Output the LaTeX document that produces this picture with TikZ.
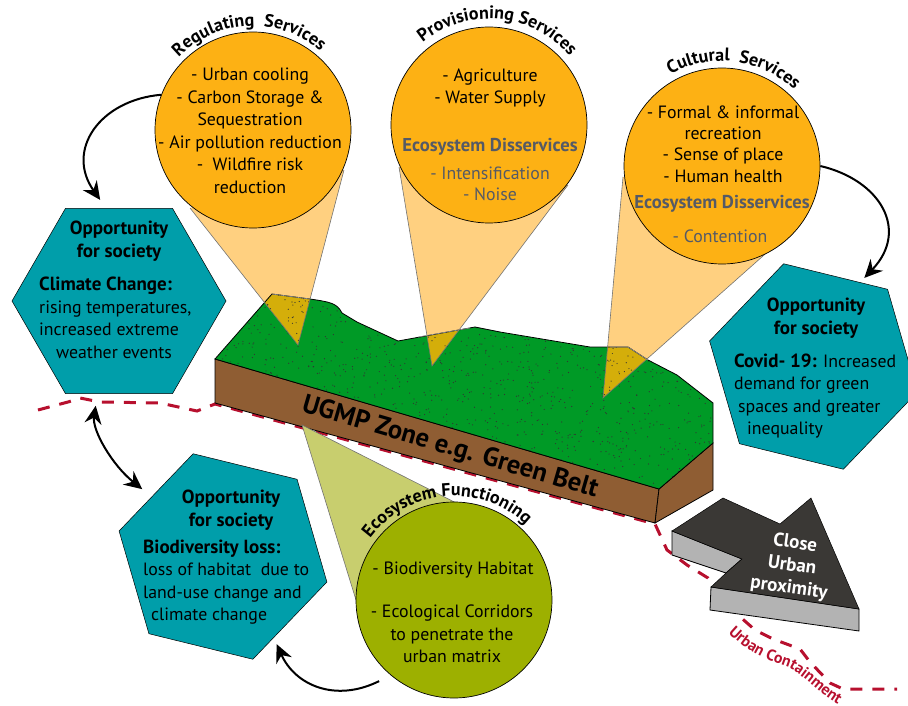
\documentclass[tikz,border=0pt]{standalone}
\usepackage{fontspec}
\setmainfont{PT Sans}
\usetikzlibrary{arrows.meta,shapes.geometric,decorations.text}

\definecolor{orangefill}{HTML}{FDB114}
\definecolor{conefill}{HTML}{FFD080}
\definecolor{overlapfill}{HTML}{D4AE0A}
\definecolor{olivefill}{HTML}{9DB000}
\definecolor{olivecone}{HTML}{C8CE6E}
\definecolor{tealfill}{HTML}{009EAA}
\definecolor{greenfill}{HTML}{009A26}
\definecolor{brownfill}{HTML}{8F5D33}
\definecolor{darkfill}{HTML}{3A3835}
\definecolor{greyfill}{HTML}{B3B3B3}
\definecolor{redline}{HTML}{B7102E}
\definecolor{disgrey}{HTML}{555A66}

\newcommand{\bodyfont}{\fontsize{17.8}{22.5}\selectfont}
\newcommand{\tightfont}{\fontsize{17.8}{21.3}\selectfont}
\newcommand{\boldfont}{\fontsize{19}{22.5}\selectfont\bfseries}
\newcommand{\disfont}{\fontsize{18.6}{22.5}\selectfont\bfseries}
\newcommand{\titlefont}{\fontsize{18}{20}\selectfont\bfseries}
\newcommand{\greentop}{(215,359) -- (272,294) -- (310,299) .. controls (330,302) and (337,303) .. (342,313)
  -- (357,322) -- (398,341) -- (475,327) -- (500,332) -- (590,347) -- (628,347) -- (648,360) -- (677,375)
  -- (713,403) -- (713,443) -- (659,489) -- cycle}
\newcommand{\coneA}{(298,345) -- (190,208) -- (344,170) -- cycle}
\newcommand{\coneB}{(432,366) -- (399,167) -- (568,185) -- cycle}
\newcommand{\coneC}{(603,398) -- (623,177) -- (790,232) -- cycle}

\tikzset{
  servicecircle/.style={draw, circle, minimum size=196, inner sep=0, fill=orangefill, line width=0.7pt},
  opphex/.style={draw, regular polygon, regular polygon sides=6, minimum size=214, inner sep=0, fill=tealfill, line width=0.5pt},
  body/.style={font=\bodyfont, align=center, inner sep=0},
  bodyleft/.style={font=\bodyfont, align=left, anchor=west, inner sep=0},
  boldtext/.style={font=\boldfont, align=center, inner sep=0},
  coneedge/.style={draw=black!55, line width=0.6pt},
  flow/.style={line width=2pt, -{Stealth[length=18pt, width=17pt, inset=6pt]}},
  arctitle/.style={decorate, decoration={text along path, text align=center}},
  redlimit/.style={redline, line width=3pt, dash pattern=on 12pt off 10pt}
}

\begin{document}
\begin{tikzpicture}[x=1pt, y=-1pt]
\useasboundingbox (0,0) rectangle (908,706);
\clip (0,0) rectangle (908,706);

% urban containment line
\draw[redlimit] (38,410) -- (68,402) -- (80,398) -- (100,402) -- (160,403) -- (183,408) -- (197,411) -- (215,404) -- (655,524)
  -- (667,550) -- (687,565) -- (708,578) -- (738,615) -- (755,630) -- (773,639) -- (800,649) -- (810,662) -- (830,683) -- (843,689) -- (897,689);
\path[decorate, decoration={text along path, text align=center, text={|\fontsize{15.8}{17}\selectfont\bfseries\color{redline}|Urban Containment}}]
  (725,630) .. controls (745,650) and (760,657) .. (785,666) .. controls (805,675) and (820,695) .. (842,706);

% cones
\fill[conefill] \coneA;
\fill[conefill] \coneB;
\fill[conefill] \coneC;

% green belt block
\draw[fill=brownfill, line width=0.8pt] (215,359) -- (659,489) -- (655,523) -- (215,403) -- cycle;
\draw[fill=brownfill, line width=0.8pt] (659,489) -- (713,443) -- (713,490) -- (655,523) -- cycle;
\fill[greenfill] \greentop;
\begin{scope}
  \clip \greentop;
  \fill[overlapfill] \coneA;
  \fill[overlapfill] \coneB;
  \fill[overlapfill] \coneC;
  \pgfmathsetseed{42}
  \foreach \i in {1,...,1500}{
    \pgfmathsetmacro{\dotx}{215+rnd*500}
    \pgfmathsetmacro{\doty}{290+rnd*200}
    \fill[black!80] (\dotx,\doty) circle[radius=0.6];
  }
\end{scope}
\draw[line width=0.8pt] \greentop;
\draw[coneedge] (190,208) -- (298,345) -- (344,170);
\draw[coneedge] (399,167) -- (432,366) -- (568,185);
\draw[coneedge] (623,177) -- (603,398) -- (790,232);
\draw[coneedge, black!40] (272,294) -- (310,299);
\draw[coneedge, black!40] (418,337) -- (470,328);
\draw[coneedge, black!40] (610,347) -- (628,347) -- (648,360);

\fill[olivecone] (302,425) -- (480,515) -- (356,600) -- cycle;
\draw[coneedge] (356,600) -- (302,425) -- (480,515);

\node[font=\fontsize{26.5}{30}\selectfont\bfseries, rotate=-16.3, inner sep=0] (zone) at (450,448) {UGMP Zone e.g. Green Belt};

% close urban proximity arrow
\draw[fill=greyfill, line width=0.8pt] (672,531) -- (742,559) -- (726,573) -- (672,555) -- cycle;
\draw[fill=greyfill, line width=0.8pt] (711,587) -- (859,609) -- (859,631) -- (710,610) -- cycle;
\draw[fill=darkfill, line width=0.5pt] (672,531) -- (723,498) -- (780,524) -- (811,498) -- (859,609) -- (711,587) -- (726,573) -- (742,559) -- cycle;
\node[font=\fontsize{19}{22.5}\selectfont\bfseries, text=white, align=center, rotate=-8, inner sep=0] (proximity) at (792,566) {Close\\Urban\\proximity};

% service circles
\node[servicecircle] (regulating) at (253,130) {};
\node[servicecircle] (provisioning) at (489,125) {};
\node[servicecircle] (cultural) at (722,166) {};
\node[servicecircle, fill=olivefill] (functioning) at (454,600) {};

\path[arctitle, decoration={text={|\titlefont|Regulating{ }{ }Services}}] (253,130) ++(-162.5:104) arc[start angle=-162.5, end angle=-22.5, radius=104];
\path[arctitle, decoration={text={|\titlefont|Provisioning Services}}] (489,125) ++(-164.5:106) arc[start angle=-164.5, end angle=-4.5, radius=106];
\path[arctitle, decoration={text={|\titlefont|Cultural{ }{ }Services}}] (722,166) ++(-163:105) arc[start angle=-163, end angle=-3, radius=105];
\path[arctitle, decoration={text={|\titlefont|Ecosystem Functioning}}] (454,600) ++(-175:104) arc[start angle=-175, end angle=-15, radius=104];

\node[body] (regulatingtext) at (250,131) {- Urban cooling\\- Carbon Storage \&\\Sequestration\\- Air pollution reduction\\-\ \ Wildfire risk\\reduction};

\node[body] (provisioningtext) at (490,88) {- Agriculture\\- Water Supply};
\node[boldtext, font=\disfont, text=disgrey] (provisioningdis) at (490,147) {Ecosystem Disservices};
\node[body, font=\tightfont, text=disgrey] (provisioninglist) at (490,184) {- Intensification\\- Noise};

\node[body, font=\tightfont] (culturaltext) at (723,144) {- Formal \& informal\\recreation\\- Sense of place\\- Human health};
\node[boldtext, font=\disfont, text=disgrey] (culturaldis) at (722,204) {Ecosystem Disservices};
\node[body, text=disgrey] (culturallist) at (720,236) {- Contention};

\node[body] (functioninghabitat) at (453,570) {- Biodiversity Habitat};
\node[body] (functioningtext) at (452,634) {- Ecological Corridors\\to penetrate the\\urban matrix};

% opportunity hexagons
\node[opphex] (climate) at (119,301) {};
\node[opphex, shape border rotate=-13.8] (biodiversity) at (223,556.5) {};
\node[opphex, shape border rotate=-13.8] (covid) at (813.5,366.5) {};

\node[boldtext] (climatehead) at (119,241) {Opportunity\\for society};
\node[bodyleft] (climatetext) at (39,318) {{\boldfont Climate Change:}\\rising temperatures,\\increased extreme\\\hspace*{17pt}weather events};

\node[boldtext] (biodiversityhead) at (231,510) {Opportunity\\for society};
\node[bodyleft] (biodiversitytext) at (143,582) {{\boldfont Biodiversity loss:}\\loss of habitat\ \ due to\\land-use change and\\\hspace*{8pt}climate change};

\node[boldtext] (covidhead) at (816,318) {Opportunity\\for society};
\node[bodyleft] (covidtext) at (734,396) {{\boldfont Covid- 19:} Increased\\demand for green\\\hspace*{4pt}spaces and greater\\\hspace*{13pt}inequality};

% connectors
\draw[flow, shorten >=10pt] (regulating.159) .. controls (100,100) and (65,150) .. (climate.98);
\draw[flow, shorten >=6pt] (cultural.0) .. controls (880,180) and (910,230) .. (covid.61);
\draw[flow, {Stealth[length=18pt, width=17pt, inset=6pt]}-{Stealth[length=18pt, width=17pt, inset=6pt]}, shorten <=12pt, shorten >=12pt] (climate.-103) .. controls (92,430) and (112,465) .. (biodiversity.140);
\draw[flow, shorten <=13pt, shorten >=7pt] (functioning.230) .. controls (335,703) and (295,685) .. (biodiversity.-58);

\end{tikzpicture}
\end{document}
